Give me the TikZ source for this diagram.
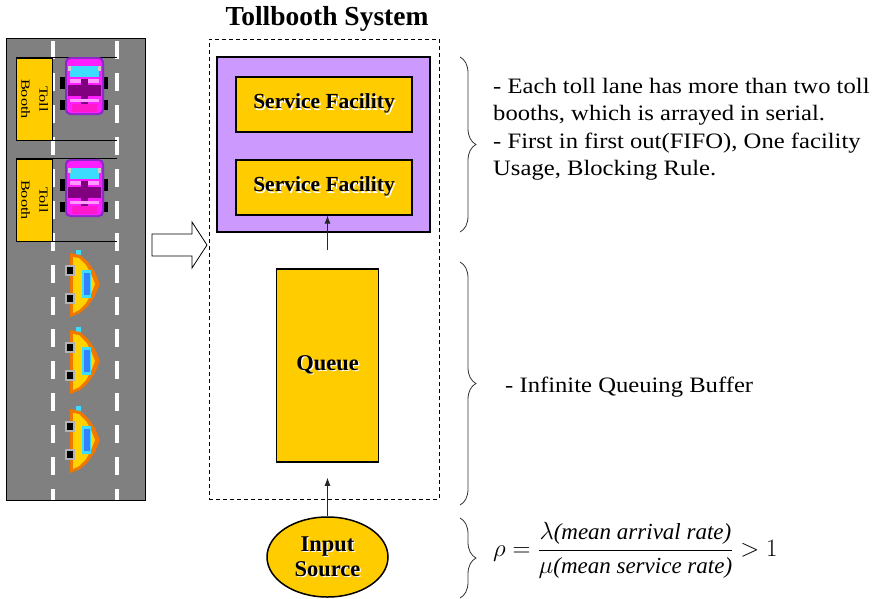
\documentclass[tikz,border=0pt]{standalone}
\usepackage{fontspec}
\setmainfont{Liberation Serif}
\usetikzlibrary{arrows.meta,decorations.pathreplacing,shapes.geometric}

\definecolor{boothyellow}{RGB}{255,204,0}
\definecolor{lilac}{RGB}{204,153,255}
\definecolor{asphalt}{RGB}{128,128,128}
\definecolor{carpink}{RGB}{255,30,255}
\definecolor{carviolet}{RGB}{140,40,200}
\definecolor{carplum}{RGB}{128,0,128}
\definecolor{glass}{RGB}{60,220,255}
\definecolor{taxiorange}{RGB}{240,120,0}
\definecolor{taxiyellow}{RGB}{255,210,0}
\definecolor{taxiblue}{RGB}{50,130,255}

% bold label with a small white drop copy behind it
\newcommand{\shadowed}[1]{\makebox[0pt][l]{\hspace{1.3pt}\raisebox{-1.3pt}{\color{white}#1}}#1}
% notes are set a little wide
\newcommand{\widetext}[1]{\scalebox{1.12}[1]{#1}}

\tikzset{
  boothbox/.style={draw, fill=boothyellow, minimum width=36pt, minimum height=82pt, inner sep=0pt,
    font=\fontsize{12.5}{18}\selectfont},
  systembox/.style={draw, dashed, dash pattern=on 4pt off 3pt, minimum width=230pt, minimum height=460pt},
  facilitybox/.style={draw, line width=1.5pt, fill=lilac, minimum width=213pt, minimum height=175pt},
  servicebox/.style={draw, line width=1.1pt, fill=boothyellow, minimum width=176pt, minimum height=55pt,
    font=\fontsize{21.5}{24}\selectfont\bfseries},
  queuebox/.style={draw, line width=1.5pt, fill=boothyellow, minimum width=102pt, minimum height=193pt,
    font=\fontsize{22.5}{25}\selectfont\bfseries},
  sourcebox/.style={ellipse, draw, line width=1.5pt, fill=boothyellow, minimum width=121pt, minimum height=80pt,
    inner sep=0pt, align=center, font=\fontsize{22.5}{25}\selectfont\bfseries},
  feed/.style={->, line width=0.9pt, draw=black!85},
  bracket/.style={decorate, decoration={brace, amplitude=16pt}, line width=0.8pt, draw=black!80},
  note/.style={inner sep=0pt, font=\fontsize{22}{27.5}\selectfont}
}

\begin{document}
\begin{tikzpicture}[x=1pt, y=-1pt, >={Latex[length=8pt,width=6pt]}]
\useasboundingbox (0,0) rectangle (887,598);

% road
\filldraw[fill=asphalt, draw=black] (6,38) rectangle (145,500);
\foreach \lx in {53,117}
  \draw[white, line width=4pt, dash pattern=on 18pt off 14pt, dash phase=29pt] (\lx,38) -- (\lx,500);

% booths with their gates
\foreach \by/\bn in {58/1,159/2} {
  \node[boothbox] (booth\bn) at (34,\by+41)
    {\rotatebox{-90}{\begin{tabular}{@{}c@{}}\scalebox{1.3}[1]{Toll}\\\scalebox{1.3}[1]{Booth}\end{tabular}}};
  \draw[line width=1.2pt] (booth\bn.north west) -- ++(101,0);
  \draw[line width=1.2pt] (booth\bn.south east) -- ++(65,0);
}

% cars at the booths
\foreach \cy in {57,159} {
 \begin{scope}[shift={(60,\cy)}]
  \fill (0,20) rectangle (7,32);
  \fill (0,43) rectangle (7,53);
  \fill (41,20) rectangle (48,32);
  \fill (41,43) rectangle (48,53);
  \fill[carviolet, rounded corners=5pt] (5,0) rectangle (44,58);
  \fill[carpink, rounded corners=4pt] (7,2) rectangle (42,56);
  \fill[glass] (10,9) rectangle (39,20);
  \fill[gray!40] (8,9) rectangle (11,14);
  \fill[gray!40] (38,9) rectangle (41,14);
  \fill[carpink!45!white] (10,22) rectangle (39,26);
  \fill[carplum] (8,28) rectangle (41,39);
  \fill[carplum] (21,22) rectangle (28,48);
  \fill[carpink!45!white] (10,42) rectangle (39,45);
  \fill[carpink!80!red] (12,47) rectangle (37,55);
 \end{scope}
}

% waiting taxis
\foreach \ty in {250,327,406} {
 \begin{scope}[shift={(64,\ty)}]
  \fill[glass] (12,0) rectangle (17,5);
  \fill[taxiorange] (6,3) -- (16,5) -- (24,12) -- (31,22) -- (36,34) -- (31,46) -- (24,56) -- (16,63) -- (6,67) -- cycle;
  \fill[taxiyellow] (9,7) -- (15,8) -- (22,15) -- (27,24) -- (31,34) -- (27,44) -- (22,53) -- (15,60) -- (9,63) -- cycle;
  \fill[glass] (18,20) rectangle (27,48);
  \fill[taxiblue] (20,23) rectangle (26,45);
  \fill[gray!60] (1,15) rectangle (11,26);
  \fill[black] (3,17) rectangle (9,24);
  \fill[gray!60] (1,43) rectangle (11,54);
  \fill[black] (3,45) rectangle (9,52);
 \end{scope}
}

% hollow arrow to the model
\draw[fill=white, line width=0.8pt] (152,234) -- (192,234) -- (192,222) -- (207,245) -- (192,268) -- (192,256) -- (152,256) -- cycle;

\node[font=\fontsize{27.5}{30}\selectfont\bfseries] (title) at (327,19) {Tollbooth System};
\node[systembox] (system) at (324,269) {};
\node[facilitybox] (facility) at (323.5,144.5) {};
\node[servicebox] (service1) at (324,104.5) {\shadowed{Service Facility}};
\node[servicebox] (service2) at (324,187.5) {\shadowed{Service Facility}};
\node[queuebox] (queue) at (327.5,365.5) {\shadowed{Queue}};
\node[sourcebox] (source) at (327.5,557) {\shadowed{Input}\\\shadowed{Source}};

\coordinate (queuein) at ([yshift=-15pt]queue.south);
\coordinate (queueout) at ([yshift=18pt]queue.north);
\draw[feed] (source) -- (queuein);
\draw[feed] (queueout) -- (queueout |- service2.south);

% notes on the right
\draw[bracket] (460,57) -- (460,232);
\draw[bracket] (460,262) -- (460,505);
\draw[bracket] (460,518) -- (460,598);

\node[note, anchor=base west] (rules) at (493,93)
  {\widetext{\begin{tabular}[t]{@{}l@{}}- Each toll lane has more than two toll\\booths, which is arrayed in serial.\\- First in first out(FIFO), One facility\\Usage, Blocking Rule.\end{tabular}}};
\node[note, anchor=base west] (buffer) at (505,392) {\widetext{- Infinite Queuing Buffer}};
\node[note, anchor=west, font=\fontsize{23}{27.5}\selectfont] (load) at (493,550)
  {$\displaystyle \rho=\frac{\lambda\textit{(mean arrival rate)}}{\mu\textit{(mean service rate)}}>1$};
\end{tikzpicture}
\end{document}
